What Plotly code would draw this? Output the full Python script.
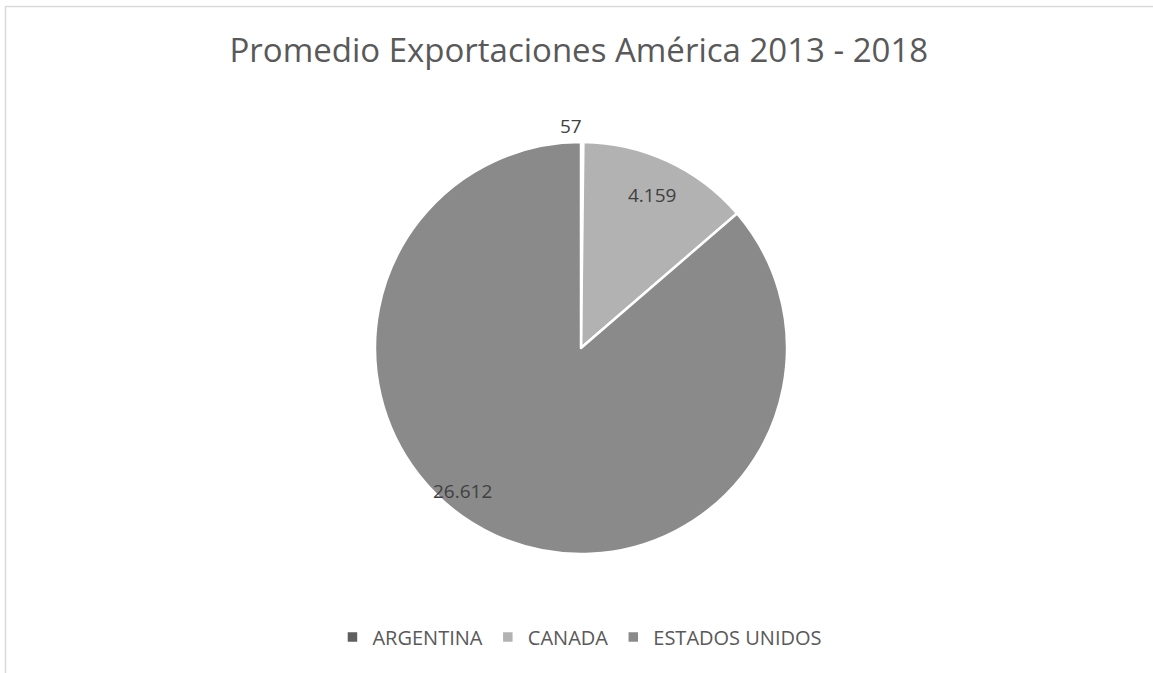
import math
import plotly.graph_objects as go

# ---- data ----
countries = ["ARGENTINA", "CANADA", "ESTADOS UNIDOS"]
values = [57, 4159, 26612]
colors = ["#5f5f5f", "#b2b2b2", "#8a8a8a"]
title_text = "Promedio Exportaciones América 2013 - 2018"

W, H = 1153, 673
# pie geometry in pixels (center and radius)
cx_px, cy_px, r_px = 581, 348, 206
dom_x = [(cx_px - r_px) / W, (cx_px + r_px) / W]
dom_y = [1 - (cy_px + r_px) / H, 1 - (cy_px - r_px) / H]

fig = go.Figure(go.Pie(
    labels=countries,
    values=values,
    marker=dict(colors=colors, line=dict(color="white", width=2.5)),
    sort=False,
    direction="clockwise",
    rotation=0,
    textinfo="none",
    hoverinfo="label+value",
    domain=dict(x=dom_x, y=dom_y),
))

# data labels positioned from the slice angles (Excel "best fit" style)
label_radius = [1.08, 0.82, 0.90]
label_angle_shift = [-3.0, 0.0, 15.0]
total = sum(values)
cum = 0
annotations = []
for i, v in enumerate(values):
    mid = (cum + v / 2) / total * 360 + label_angle_shift[i]
    cum += v
    a = math.radians(mid)
    px = cx_px + label_radius[i] * r_px * math.sin(a)
    py = cy_px - label_radius[i] * r_px * math.cos(a)
    annotations.append(dict(
        x=px / W, y=1 - py / H, xref="paper", yref="paper",
        text=f"{v:,}".replace(",", "."), showarrow=False,
        font=dict(family="Open Sans", size=19, color="#404040"),
        xanchor="center", yanchor="middle",
    ))

fig.update_layout(
    width=W, height=H,
    margin=dict(l=0, r=0, t=0, b=0),
    paper_bgcolor="white",
    plot_bgcolor="white",
    separators=",.",
    title=dict(
        text=title_text,
        x=0.502, xanchor="center",
        y=1 - 50 / H, yanchor="middle",
        font=dict(family="Open Sans", size=33, color="#595959"),
    ),
    legend=dict(
        orientation="h",
        x=0.503, xanchor="center",
        y=1 - 637 / H, yanchor="middle",
        font=dict(family="Open Sans", size=20, color="#595959"),
        itemwidth=30,
    ),
    annotations=annotations,
    shapes=[dict(
        type="rect", xref="paper", yref="paper",
        x0=5.5 / W, x1=1.02, y0=-0.02, y1=1 - 6.5 / H,
        line=dict(color="#d9d9d9", width=1.5),
        fillcolor="rgba(0,0,0,0)", layer="below",
    )],
)

fig.write_html(
    "out.html",
    config={"displayModeBar": False},
    post_script="document.body.style.margin='0';document.body.style.padding='0';",
)
